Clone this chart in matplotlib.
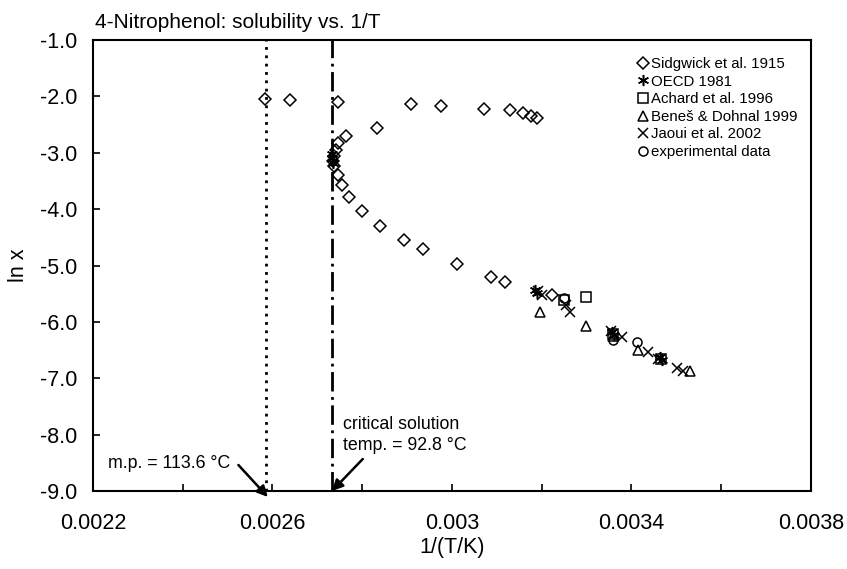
import matplotlib
matplotlib.use("Agg")
import matplotlib.pyplot as plt
from matplotlib.ticker import FixedLocator, FuncFormatter, MultipleLocator

plt.rcParams['font.family'] = ['Liberation Sans', 'DejaVu Sans']

# Sidgwick et al. 1915
sid_x = [0.002584, 0.002640, 0.002745, 0.002909, 0.002975, 0.003071, 0.003129, 0.003159, 0.003176, 0.003190,
         0.002833, 0.002763, 0.002745, 0.002741, 0.002736, 0.002734, 0.002736, 0.002745, 0.002754, 0.002771,
         0.002800, 0.002840, 0.002894, 0.002935, 0.003011, 0.003086, 0.003119, 0.003223]
sid_y = [-2.05, -2.06, -2.10, -2.13, -2.17, -2.22, -2.25, -2.29, -2.34, -2.39,
         -2.56, -2.71, -2.83, -2.95, -3.06, -3.14, -3.24, -3.40, -3.58, -3.79,
         -4.03, -4.30, -4.55, -4.71, -4.98, -5.21, -5.29, -5.53]
# OECD 1981
oecd_x = [0.002732, 0.002733, 0.002734, 0.003186, 0.003190, 0.003356, 0.003360, 0.003464, 0.003468]
oecd_y = [-3.02, -3.10, -3.18, -5.44, -5.48, -6.18, -6.24, -6.62, -6.67]
# Achard et al. 1996
ach_x = [0.003250, 0.003298, 0.003358, 0.003466]
ach_y = [-5.62, -5.55, -6.22, -6.66]
# Beneš & Dohnal 1999
ben_x = [0.003195, 0.003299, 0.003358, 0.003415, 0.003530]
ben_y = [-5.82, -6.07, -6.25, -6.50, -6.88]
# Jaoui et al. 2002
jao_x = [0.003192, 0.003200, 0.003255, 0.003264, 0.003354, 0.003378, 0.003437, 0.003460, 0.003501, 0.003515]
jao_y = [-5.45, -5.52, -5.70, -5.82, -6.17, -6.26, -6.53, -6.65, -6.81, -6.88]
# experimental data
exp_x = [0.003249, 0.003358, 0.003413]
exp_y = [-5.57, -6.33, -6.36]

x_ticks = [0.0022, 0.0026, 0.0030, 0.0034, 0.0038]
x_minor = [0.0024, 0.0028, 0.0032, 0.0036]
x_tick_labels = ['0.0022', '0.0026', '0.003', '0.0034', '0.0038']

mp_C = 113.6
crit_C = 92.8
mp_inv = 1.0 / (mp_C + 273.15)
crit_inv = 1.0 / (crit_C + 273.15)

fig = plt.figure(figsize=(8.47, 5.69), dpi=100)
ax = fig.add_axes([93/847, 1-491/569, (811-93)/847, (491-40)/569])

ms = 6.5
kw = dict(linestyle='none', color='black', markerfacecolor='none', markeredgewidth=1.1)
ax.plot(sid_x, sid_y, marker='D', markersize=ms, label='Sidgwick et al. 1915', **kw)
ax.plot(oecd_x, oecd_y, marker=(6, 2, 0), markersize=8, label='OECD 1981', **kw)
ax.plot(ach_x, ach_y, marker='s', markersize=ms, label='Achard et al. 1996', **kw)
ax.plot(ben_x, ben_y, marker='^', markersize=ms, label='Beneš & Dohnal 1999', **kw)
ax.plot(jao_x, jao_y, marker='x', markersize=ms, label='Jaoui et al. 2002', **kw)
ax.plot(exp_x, exp_y, marker='o', markersize=ms, label='experimental data', **kw)

ax.axvline(mp_inv, color='black', linestyle=(0, (1, 2)), linewidth=2)
ax.axvline(crit_inv, color='black', linestyle=(0, (7, 2, 1, 2)), linewidth=2)

ax.set_xlim(0.0022, 0.0038)
ax.set_ylim(-9.0, -1.0)
ax.xaxis.set_major_locator(FixedLocator(x_ticks))
ax.xaxis.set_minor_locator(FixedLocator(x_minor))
ax.set_xticklabels(x_tick_labels)
ax.yaxis.set_major_locator(MultipleLocator(1.0))
ax.yaxis.set_major_formatter(FuncFormatter(lambda v, p: '%.1f' % v))
ax.tick_params(axis='both', which='both', direction='in', length=5, width=1.2, labelsize=15.5)
ax.tick_params(axis='x', which='both', pad=16)
ax.tick_params(axis='y', which='both', pad=11)
for s in ax.spines.values():
    s.set_linewidth(1.5)

ax.set_xlabel('1/(T/K)', fontsize=15.5)
ax.xaxis.set_label_coords(0.5, -(537-491)/451)
fig.text(18/847, 1-265/569, 'ln x', fontsize=15.5, rotation=90, ha='center', va='center')
fig.text(95/847, 1-22/569, '4-Nitrophenol: solubility vs. 1/T', fontsize=15, ha='left', va='center')

def px2x(px):
    return 0.0022 + (px - 93) / 447500.0

def px2y(py):
    return -1.0 - (py - 40) / 56.375

arrow = dict(arrowstyle='-|>', color='black', lw=1.8, mutation_scale=16, shrinkA=0, shrinkB=0)
ax.annotate('', xy=(mp_inv + 0.000004, px2y(497)), xytext=(px2x(238), px2y(465)),
            arrowprops=arrow, annotation_clip=False)
ax.annotate('', xy=(crit_inv, -9.0), xytext=(px2x(362), px2y(459)),
            arrowprops=arrow, annotation_clip=False)
ax.text(px2x(108), px2y(463), 'm.p. = 113.6 °C', fontsize=12.8, ha='left', va='center')
ax.text(px2x(342), px2y(435), 'critical solution\ntemp. = 92.8 °C', fontsize=12.8,
        ha='left', va='center', linespacing=1.35)

ax.legend(loc='upper left', bbox_to_anchor=((635-93)/718, 1-(57-40)/451), frameon=False,
          fontsize=10.8, handletextpad=0.05, handlelength=1.0, labelspacing=0.24,
          borderaxespad=0, borderpad=0)

fig.savefig('out.png', dpi=100)
